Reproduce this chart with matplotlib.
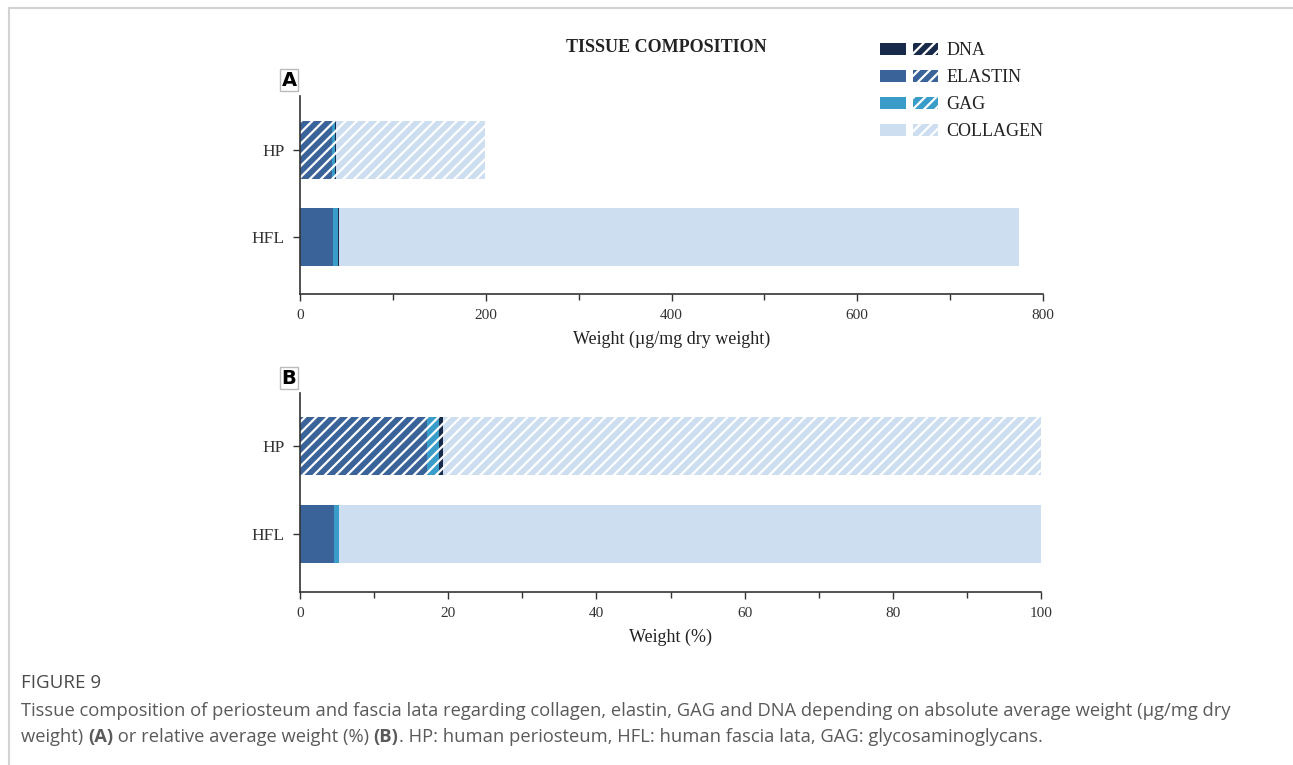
import matplotlib
matplotlib.use("Agg")
import matplotlib.pyplot as plt
from matplotlib.patches import Patch
from matplotlib.lines import Line2D
from matplotlib.legend_handler import HandlerTuple
from matplotlib.ticker import MultipleLocator

# data
categories = ["HFL", "HP"]
components = ["ELASTIN", "GAG", "DNA", "COLLAGEN"]
abs_hfl = [36, 5, 0.5, 733]
abs_hp = [34, 4, 1, 160]
rel_hfl = [4.6, 0.6, 0.1, 94.7]
rel_hp = [17.1, 1.6, 0.6, 80.7]

colors = {"DNA": "#172a4a", "ELASTIN": "#3a6399", "GAG": "#3a9cc9", "COLLAGEN": "#cedef1"}
legend_order = ["DNA", "ELASTIN", "GAG", "COLLAGEN"]

plt.rcParams["hatch.linewidth"] = 1.6
serif = "Liberation Serif"

W, H = 1293, 765
fig = plt.figure(figsize=(W / 100, H / 100), dpi=100)


def px_axes(left, top, right, bottom):
    return fig.add_axes([left / W, 1 - bottom / H, (right - left) / W, (bottom - top) / H])


def draw_panel(ax, hfl, hp, xmax, major, minor, xlabel, ylim, bar_h):
    for yi, vals, hatched in [(0, hfl, False), (1, hp, True)]:
        left = 0
        for comp, v in zip(components, vals):
            if hatched:
                ax.barh(yi, v, left=left, height=bar_h, color=colors[comp],
                        hatch="///", edgecolor="white", linewidth=0)
            else:
                ax.barh(yi, v, left=left, height=bar_h, color=colors[comp], linewidth=0)
            left += v
    ax.set_xlim(0, xmax)
    ax.set_ylim(*ylim)
    ax.set_yticks([0, 1])
    ax.set_yticklabels(categories, fontfamily=serif, fontsize=12.5, color="#222")
    ax.xaxis.set_major_locator(MultipleLocator(major))
    ax.xaxis.set_minor_locator(MultipleLocator(minor))
    for lab in ax.get_xticklabels():
        lab.set_fontfamily(serif)
        lab.set_fontsize(11)
        lab.set_color("#222")
    ax.tick_params(axis="both", which="major", length=5, width=1, colors="#333", pad=6)
    ax.tick_params(axis="x", which="minor", length=4, width=1, colors="#333")
    ax.tick_params(axis="y", which="minor", left=False)
    for s in ["top", "right"]:
        ax.spines[s].set_visible(False)
    for s in ["left", "bottom"]:
        ax.spines[s].set_linewidth(1.2)
        ax.spines[s].set_color("#333")
    ax.set_xlabel(xlabel, fontfamily=serif, fontsize=13, color="#222", labelpad=6)
    ax.set_facecolor("none")


axA = px_axes(300, 96, 1043, 294)
draw_panel(axA, abs_hfl, abs_hp, 800, 200, 100, "Weight (µg/mg dry weight)",
           (-0.663, 1.63), 0.67)
axB = px_axes(300, 393, 1041, 592)
draw_panel(axB, rel_hfl, rel_hp, 100, 20, 10, "Weight (%)",
           (-0.655, 1.6), 0.655)

# panel letters
for label, y in [("A", 80), ("B", 378)]:
    fig.text(289 / W, 1 - y / H, label, ha="center", va="center", fontsize=14,
             fontweight="bold", fontfamily="DejaVu Sans",
             bbox=dict(boxstyle="square,pad=0.08", fc="white", ec="#bbbbbb", lw=1))

fig.text(666 / W, 1 - 47 / H, "TISSUE COMPOSITION", ha="center", va="center",
         fontfamily=serif, fontweight="bold", fontsize=13, color="#222")

handles = [(Patch(fc=colors[c], lw=0),
            Patch(fc=colors[c], hatch="///", ec="white", lw=0)) for c in legend_order]
leg = fig.legend(handles, legend_order, handler_map={tuple: HandlerTuple(ndivide=None, pad=0.39)},
                 loc="upper left", bbox_to_anchor=(864 / W, 1 - 26 / H), frameon=False,
                 handlelength=3.2, handleheight=0.62, labelspacing=0.55, handletextpad=0.45,
                 prop={"family": serif, "size": 13})
for t in leg.get_texts():
    t.set_color("#222")

# frame around the figure
fig.add_artist(Line2D([9 / W, 1], [1 - 7.5 / H, 1 - 7.5 / H], color="#d2d2d2", lw=1.5))
fig.add_artist(Line2D([9 / W, 9 / W], [0, 1 - 7.5 / H], color="#d2d2d2", lw=1.5))

# caption
cap_font = "Open Sans"
cap_color = "#5a5a5a"
cap_size = 13.2
fig.text(21 / W, 1 - 683 / H, "FIGURE 9", ha="left", va="center", fontfamily=cap_font,
         fontsize=13.5, color="#4a4a4a")
fig.text(21 / W, 1 - 711 / H,
         "Tissue composition of periosteum and fascia lata regarding collagen, elastin, GAG and DNA "
         "depending on absolute average weight (µg/mg dry",
         ha="left", va="center", fontfamily=cap_font, fontsize=cap_size, color=cap_color)

renderer = fig.canvas.get_renderer()
x = 21 / W
pieces = [("weight) ", "normal"), ("(A)", "bold"), (" or relative average weight (%) ", "normal"),
          ("(B)", "bold"), (". HP: human periosteum, HFL: human fascia lata, GAG: glycosaminoglycans.", "normal")]
for txt, wt in pieces:
    t = fig.text(x, 1 - 737 / H, txt, ha="left", va="center", fontfamily=cap_font,
                 fontsize=cap_size, fontweight=wt, color=cap_color)
    bb = t.get_window_extent(renderer)
    x = bb.x1 / W

fig.savefig("out.png", dpi=100)
